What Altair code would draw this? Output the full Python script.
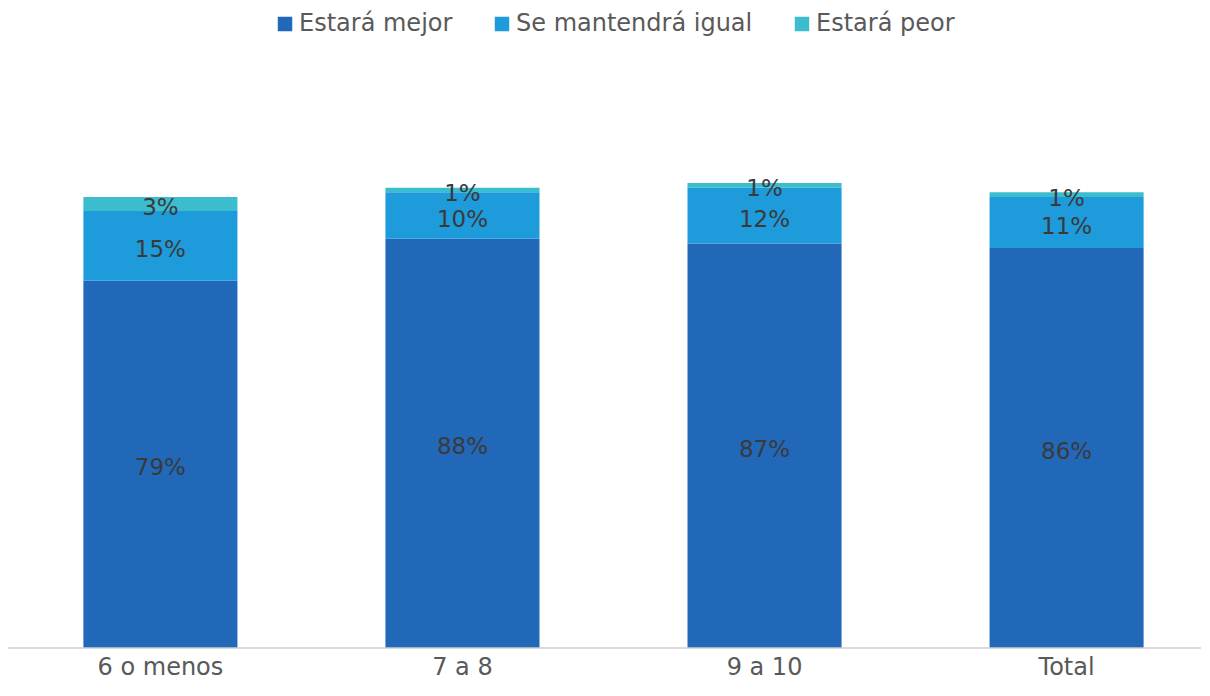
import altair as alt
import pandas as pd

categories = ["6 o menos", "7 a 8", "9 a 10", "Total"]
series = ["Estará mejor", "Se mantendrá igual", "Estará peor"]
mejor = [79, 88, 87, 86]
igual = [15, 10, 12, 11]
peor = [3, 1, 1, 1]
colors = ["#2268B8", "#1E9BDA", "#3BBDCD"]

rows = []
for i, c in enumerate(categories):
    for j, (s, vals) in enumerate(zip(series, [mejor, igual, peor])):
        rows.append({"cat": c, "serie": s, "idx": j, "value": vals[i],
                     "label": f"{vals[i]}%"})
df = pd.DataFrame(rows)

FONT = "DejaVu Sans"
W, H = 1175, 465

base = alt.Chart(df).transform_stack(
    stack="value", groupby=["cat"], as_=["y0", "y1"],
    sort=[alt.SortField("idx", order="ascending")]
).transform_calculate(mid="(datum.y0 + datum.y1) / 2")

x = alt.X("cat:N", sort=categories, title=None,
          scale=alt.Scale(paddingInner=0.49, paddingOuter=0.19),
          axis=alt.Axis(labelAngle=0, labelFont=FONT, labelFontSize=24,
                        labelColor="#595959", labelPadding=7, ticks=False,
                        domain=False))

bars = base.mark_bar().encode(
    x=x,
    y=alt.Y("y0:Q", scale=alt.Scale(domain=[0, 100]), axis=None),
    y2="y1:Q",
    color=alt.Color("serie:N", sort=series,
                    scale=alt.Scale(domain=series, range=colors),
                    legend=alt.Legend(title=None, orient="none", direction="horizontal",
                                      legendX=247, legendY=-171,
                                      symbolType="square", symbolSize=210,
                                      symbolStrokeWidth=0, labelFont=FONT,
                                      labelFontSize=24, labelColor="#595959",
                                      labelOffset=2, columnPadding=37,
                                      labelLimit=400)),
)

axis_line = alt.Chart(pd.DataFrame({"a": [0]})).mark_rule(
    color="#D0CECE", strokeWidth=1.5
).encode(x=alt.value(-18), x2=alt.value(W + 8), y=alt.value(H))

text = base.mark_text(font=FONT, fontSize=23, color="#3A3A3A", dy=4).encode(
    x=alt.X("cat:N", sort=categories),
    y=alt.Y("mid:Q"),
    text="label:N",
)

chart = alt.layer(bars, axis_line, text).properties(
    width=W, height=H,
    background="white",
    autosize=alt.AutoSizeParams(type="none"),
    padding={"left": 18, "top": 175, "right": 0, "bottom": 40},
).configure_view(stroke=None, strokeWidth=0)

chart.save("out.html", embed_options={"renderer": "svg", "actions": False})
